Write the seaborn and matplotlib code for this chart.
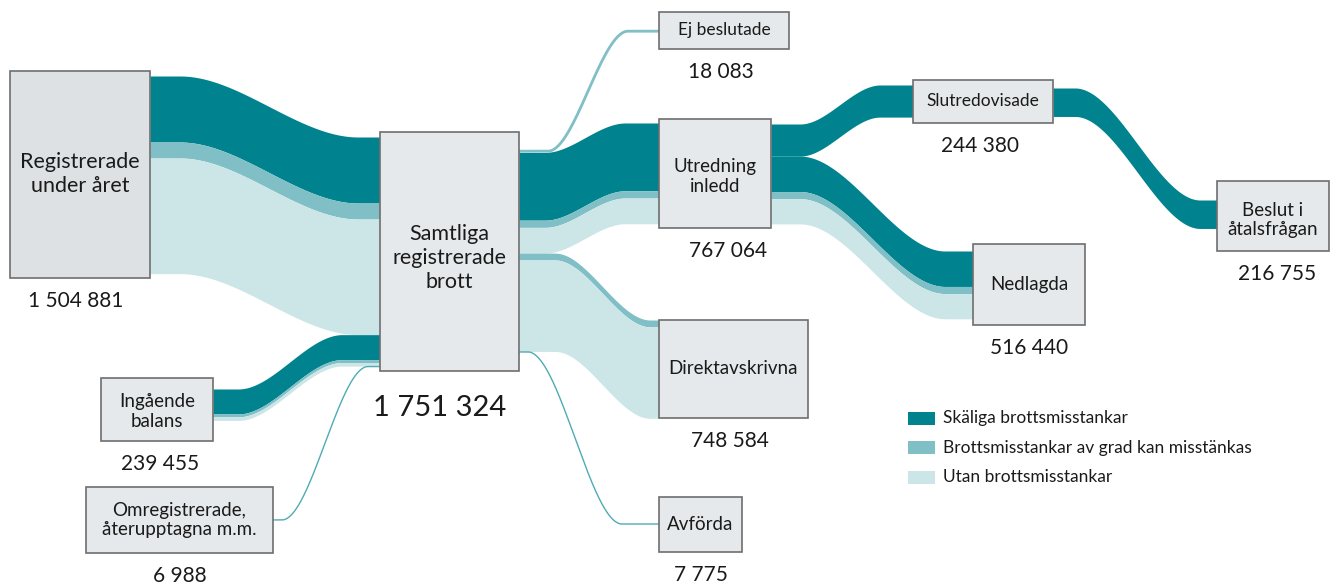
import numpy as np
import matplotlib
matplotlib.use("Agg")
import matplotlib.pyplot as plt
from matplotlib.patches import Rectangle
import seaborn as sns

# Data
categories = ['Skäliga brottsmisstankar',
              'Brottsmisstankar av grad kan misstänkas',
              'Utan brottsmisstankar']
node_keys = ['reg', 'samtliga', 'ej', 'utredning', 'direkt', 'avforda',
             'slut', 'nedlagda', 'beslut', 'ingaende', 'omreg']
node_labels = ['Registrerade\nunder året', 'Samtliga\nregistrerade\nbrott',
               'Ej beslutade', 'Utredning\ninledd', 'Direktavskrivna', 'Avförda',
               'Slutredovisade', 'Nedlagda', 'Beslut i\nåtalsfrågan',
               'Ingående\nbalans', 'Omregistrerade,\nåterupptagna m.m.']
node_totals = [1504881, 1751324, 18083, 767064, 748584, 7775,
               244380, 516440, 216755, 239455, 6988]

# flows split by category (thick bands)
link_src = ['reg', 'ingaende', 'samtliga', 'samtliga', 'utredning', 'utredning', 'slut']
link_dst = ['samtliga', 'samtliga', 'utredning', 'direkt', 'slut', 'nedlagda', 'beslut']
skaliga = [502500, 190000, 516000, 0, 244380, 270000, 216755]
kan_misstankas = [121900, 22000, 55000, 52000, 0, 54000, 0]
utan = [880481, 27455, 196064, 696584, 0, 192440, 0]

# small flows drawn as a single line
thin_src = ['omreg', 'samtliga', 'samtliga']
thin_dst = ['samtliga', 'ej', 'avforda']
thin_values = [6988, 18083, 7775]

# Layout (pixels)
SCALE = 1 / 7614
boxes = {
    'reg': (10, 71, 150, 278), 'samtliga': (380, 132, 519, 371),
    'ej': (659, 12, 789, 49), 'utredning': (659, 119, 771, 228),
    'direkt': (659, 320, 808, 418), 'avforda': (659, 497, 742, 552),
    'slut': (913, 80, 1053, 123), 'nedlagda': (973, 244, 1085, 325),
    'beslut': (1217, 181, 1329, 251), 'ingaende': (101, 378, 213, 441),
    'omreg': (86, 487, 273, 553),
}
label_dy = {'samtliga': 6, 'utredning': 3, 'beslut': 4, 'ingaende': 2}
label_size = {'reg': 15.5, 'samtliga': 15.5, 'ej': 12.5, 'slut': 12.5}
value_x = {'utredning': 728, 'ej': 721, 'direkt': 730, 'slut': 980,
           'beslut': 1277, 'ingaende': 160, 'reg': 76, 'samtliga': 440}
out_start = {'reg': 76, 'ingaende': 389, 'omreg': 519.5, 'samtliga': 150,
             'utredning': 124, 'slut': 88}
in_start = {'samtliga': 137, 'utredning': 123, 'direkt': 320, 'slut': 85,
            'nedlagda': 251, 'beslut': 200, 'ej': 30, 'avforda': 523.5}
order_out = {'samtliga': ['ej', 'utredning', 'direkt', 'avforda'],
             'reg': ['samtliga'], 'ingaende': ['samtliga'], 'omreg': ['samtliga'],
             'utredning': ['slut', 'nedlagda'], 'slut': ['beslut']}
order_in = {'samtliga': ['reg', 'ingaende', 'omreg']}
windows = {('reg', 'samtliga'): (180, 358), ('ingaende', 'samtliga'): (238, 342),
           ('omreg', 'samtliga'): (282, 368), ('samtliga', 'ej'): (548, 628),
           ('samtliga', 'utredning'): (545, 625), ('samtliga', 'direkt'): (555, 650),
           ('samtliga', 'avforda'): (528, 622), ('utredning', 'slut'): (800, 880),
           ('utredning', 'nedlagda'): (800, 945), ('slut', 'beslut'): (1075, 1200)}

colors = ['#00838E', '#7FBFC5', '#CCE6E8']
BOX_FILL = '#E6E9EB'
TEXT = '#1a1a1a'

# totals per link, used for stacking
link_total = {}
for s, d, a, b, c in zip(link_src, link_dst, skaliga, kan_misstankas, utan):
    link_total[(s, d)] = a + b + c
for s, d, v in zip(thin_src, thin_dst, thin_values):
    link_total[(s, d)] = v


def stack_pos(node, other, outgoing):
    if outgoing:
        y = out_start[node]
        for o in order_out.get(node, [other]):
            if o == other:
                return y
            y += link_total[(node, o)] * SCALE
    y = in_start[node]
    for o in order_in.get(node, [other]):
        if o == other:
            return y
        y += link_total[(o, node)] * SCALE
    return y


def sstep(x, xa, xb):
    t = np.clip((x - xa) / (xb - xa), 0, 1)
    return t * t * (3 - 2 * t)


sns.set_theme(style="white")
plt.rcParams['font.family'] = ['Lato', 'DejaVu Sans']

fig = plt.figure(figsize=(13.33, 5.85), dpi=100)
ax = fig.add_axes([0, 0, 1, 1])
ax.set_xlim(0, 1333)
ax.set_ylim(585, 0)
ax.axis('off')

# thick bands
for i, (s, d) in enumerate(zip(link_src, link_dst)):
    x0, x1 = boxes[s][2], boxes[d][0]
    x = np.linspace(x0, x1, 400)
    shape = sstep(x, *windows[(s, d)])
    y_src = stack_pos(s, d, True)
    y_dst = stack_pos(d, s, False)
    for vals, col in zip([skaliga, kan_misstankas, utan], colors):
        h = vals[i] * SCALE
        if h <= 0:
            continue
        top = y_src + (y_dst - y_src) * shape
        ax.fill_between(x, top, top + h, color=col, lw=0, zorder=1)
        y_src += h
        y_dst += h

# thin flows as lines
for s, d, v in zip(thin_src, thin_dst, thin_values):
    x0, x1 = boxes[s][2], boxes[d][0]
    x = np.linspace(x0, x1, 400)
    shape = sstep(x, *windows[(s, d)])
    h = v * SCALE
    y_src = stack_pos(s, d, True) + h / 2
    y_dst = stack_pos(d, s, False) + h / 2
    lw = 2.0 if v > 10000 else 1.0
    col = colors[1] if v > 10000 else '#4FABB4'
    ax.plot(x, y_src + (y_dst - y_src) * shape, color=col, lw=lw,
            solid_capstyle='butt', zorder=1)

# node boxes and labels
for key, label, total in zip(node_keys, node_labels, node_totals):
    x0, y0, x1, y1 = boxes[key]
    fill = '#DDE1E3' if key == 'reg' else BOX_FILL
    ax.add_patch(Rectangle((x0, y0), x1 - x0, y1 - y0, facecolor=fill,
                           edgecolor='#6E6E6E', lw=1.2, zorder=3))
    fs = label_size.get(key, 13.5)
    ax.text((x0 + x1) / 2, (y0 + y1) / 2 + label_dy.get(key, 0), label,
            ha='center', va='center', fontsize=fs, color=TEXT,
            linespacing=1.25 if fs > 15 else 1.15, zorder=4)
    num = f"{total:,}".replace(",", " ")
    vx = value_x.get(key, (x0 + x1) / 2)
    if key == 'samtliga':
        ax.text(vx, y1 + 37, num, ha='center', va='center', fontsize=21, color=TEXT)
    else:
        ax.text(vx, y1 + 23, num, ha='center', va='center', fontsize=15, color=TEXT)

# legend
for j, (cat, col) in enumerate(zip(categories, colors)):
    yc = 418 + j * 29.5
    ax.add_patch(Rectangle((908, yc - 6.5), 27, 13, facecolor=col, lw=0))
    ax.text(943, yc, cat, ha='left', va='center', fontsize=12.5, color=TEXT)

fig.savefig('out.png', dpi=100)
